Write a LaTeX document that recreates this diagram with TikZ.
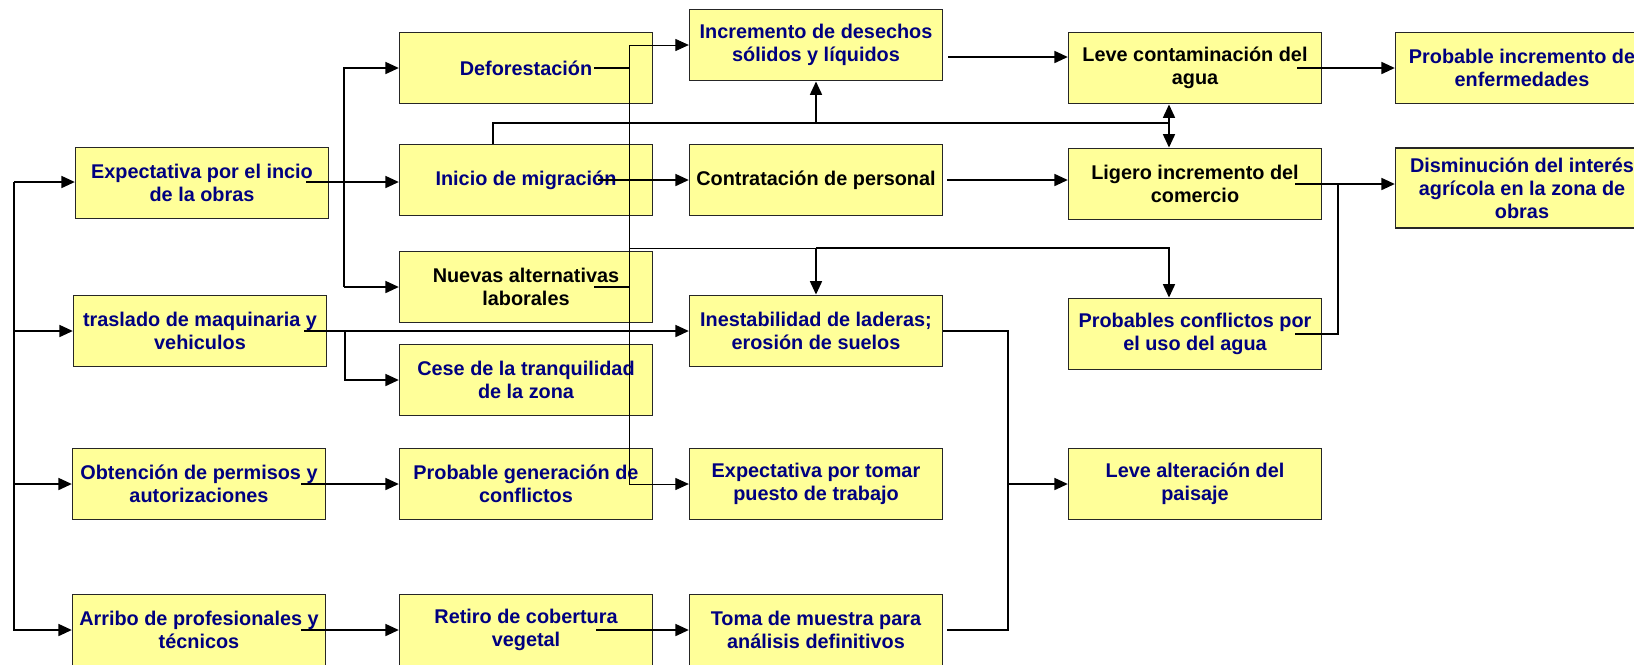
\documentclass[tikz,border=0pt]{standalone}
\usepackage{fontspec}
\setmainfont{Liberation Sans}
\usetikzlibrary{arrows.meta,calc}

\definecolor{amarillo}{RGB}{255,255,153}
\definecolor{azul}{RGB}{0,0,128}

\tikzset{
  caja/.style={draw=black!85, fill=amarillo, line width=0.8pt, align=center,
    minimum width=5.06cm, minimum height=1.43cm, inner sep=1pt, text=azul,
    font=\fontsize{11.3}{13}\selectfont\bfseries},
  cajanegra/.style={caja, text=black},
  linea/.style={line width=0.95pt},
  fina/.style={line width=0.45pt},
  punta/.tip={Triangle[length=7.6pt,width=6.8pt]},
  flecha/.style={linea, -punta}
}

\begin{document}
\begin{tikzpicture}[x=0.02cm,y=-0.02cm]
\useasboundingbox (0,0) rectangle (1634,664);

% primera columna
\node[caja] (expo) at (202,183) {Expectativa por el incio\\de la obras};
\node[caja] (tras) at (200,331) {traslado de maquinaria y\\vehiculos};
\node[caja] (obte) at (199,484) {Obtención de permisos y\\autorizaciones};
\node[caja] (arri) at (199,630) {Arribo de profesionales y\\técnicos};

% segunda columna
\node[caja] (defo) at (526,68) {Deforestación};
\node[caja] (migr) at (526,180) {Inicio de migración};
\node[cajanegra] (nuev) at (526,287) {Nuevas alternativas\\laborales};
\node[caja] (cese) at (526,380) {Cese de la tranquilidad\\de la zona};
\node[caja] (prob) at (526,484) {Probable generación de\\conflictos};
\node[caja] (reti) at (526,630) {Retiro de cobertura\\vegetal};

% tercera columna
\node[caja] (dese) at (816,45) {Incremento de desechos\\sólidos y líquidos};
\node[cajanegra] (cont) at (816,180) {Contratación de personal};
\node[caja] (ines) at (816,331) {Inestabilidad de laderas;\\erosión de suelos};
\node[caja] (toma) at (816,484) {Expectativa por tomar\\puesto de trabajo};
\node[caja] (mues) at (816,630) {Toma de muestra para\\análisis definitivos};

% cuarta columna
\node[cajanegra] (agua) at (1195,68) {Leve contaminación del\\agua};
\node[cajanegra] (come) at (1195,184) {Ligero incremento del\\comercio};
\node[caja] (conf) at (1195,334) {Probables conflictos por\\el uso del agua};
\node[caja] (pais) at (1195,484) {Leve alteración del\\paisaje};

% quinta columna
\node[caja] (enfe) at (1522,68) {Probable incremento de\\enfermedades};
\node[caja, minimum height=1.6cm] (dism) at (1522,188) {Disminución del interés\\agrícola en la zona de\\obras};

% ejes de las conexiones
\coordinate (troncoA) at (14,182);
\coordinate (troncoB) at (14,630);
\coordinate (busA) at (344,0);
\coordinate (busC) at (1169,123);
\coordinate (ejeD) at (629,45);
\coordinate (busE) at (1169,248);
\coordinate (ejeF) at (1008,484);
\coordinate (ejeG) at (1338,0);
\coordinate (d1) at ($(dese.east)+(5,12)$);
\coordinate (e1) at ($(expo.east)+(-23,-1)$);

% tronco de la izquierda
\draw[flecha] (troncoA) -- (troncoA -| expo.west);
\draw[flecha] (troncoA) -- (troncoB) -- (arri.west);
\draw[flecha] (troncoA |- tras.west) -- (tras.west);
\draw[flecha] (troncoA |- obte.west) -- (obte.west);

% expectativa hacia la segunda columna
\draw[flecha] (e1) -- (e1 -| migr.west);
\draw[flecha] (nuev.west -| busA) -- (defo.west -| busA) -- (defo.west);
\draw[flecha] (nuev.west -| busA) -- (nuev.west);

% migracion
\draw[flecha] ($(migr.east)+(-55,0)$) -- (cont.west);
\draw[linea] ($(migr.north)+(-33,0)$) |- (busC);
\draw[flecha] (dese.south |- busC) -- (dese.south);
\draw[flecha] (busC) -- (busC |- agua.south);
\draw[flecha] (busC) -- (busC |- come.north);

% linea fina de deforestacion y nuevas alternativas
\draw[linea] ($(defo.east)+(-59,0)$) -- (defo.east -| ejeD);
\draw[linea] ($(nuev.east)+(-59,0)$) -- (nuev.east -| ejeD);
\draw[fina, punta-punta] (dese.west) -- (ejeD) -- (toma.west -| ejeD) -- (toma.west);
\draw[fina] (ejeD |- busE) -- (ines.north |- busE);
\draw[flecha] (ines.north |- busE) -- (ines.north);
\draw[flecha] (ines.north |- busE) -- (busE) -- (busE |- conf.north);

% traslado, permisos y profesionales
\draw[flecha] ($(tras.east)+(-23,0)$) -- (ines.west);
\draw[flecha] ($(tras.east)+(18,0)$) |- (cese.west);
\draw[flecha] ($(obte.east)+(-25,0)$) -- (prob.west);
\draw[flecha] ($(arri.east)+(-25,0)$) -- (reti.west);
\draw[flecha] ($(reti.east)+(-57,0)$) -- (mues.west);

% hacia el paisaje
\draw[linea] (ines.east) -| (mues.east -| ejeF) -- ($(mues.east)+(4,0)$);
\draw[flecha] (ejeF |- pais.west) -- (pais.west);

% cuarta y quinta columna
\draw[flecha] (d1) -- (d1 -| agua.west);
\draw[flecha] ($(cont.east)+(4,0)$) -- (cont.east -| come.west);
\draw[flecha] ($(agua.east)+(-25,0)$) -- (agua.east -| enfe.west);
\draw[flecha] ($(come.east)+(-27,0)$) -- (come.east -| dism.west);
\draw[linea] ($(conf.east)+(-27,0)$) -| (ejeG |- come.east);
\end{tikzpicture}
\end{document}
